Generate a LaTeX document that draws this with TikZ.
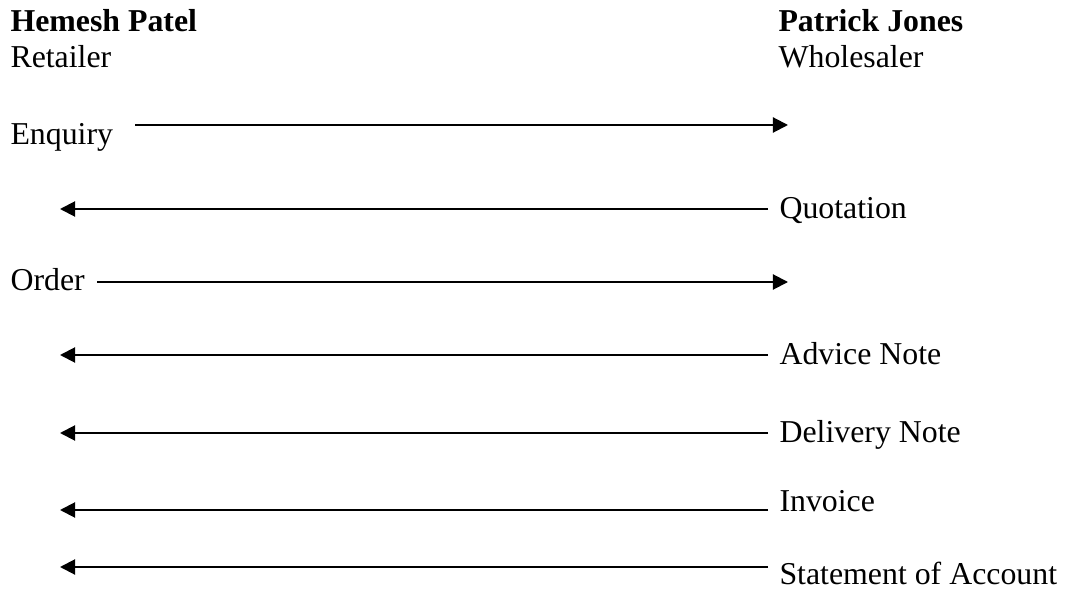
\documentclass[tikz,border=0pt]{standalone}
\usepackage{fontspec}
\setmainfont{Liberation Serif}
\usetikzlibrary{arrows.meta}

\begin{document}
\begin{tikzpicture}[x=0.377pt, y=-0.377pt,
    lbl/.style={anchor=base west, inner sep=0pt, font=\fontsize{12}{14}\selectfont},
    msg/.style={-{Triangle[length=5.7pt, width=5.7pt]}, line width=0.75pt}]
        \useasboundingbox (0,0) rectangle (1065,589);

        % parties
        \node[lbl] (retailer) at (10,32) {\textbf{Hemesh Patel}};
        \node[lbl] (retailerRole) at (10,68) {Retailer};
        \node[lbl] (wholesaler) at (778,32) {\textbf{Patrick Jones}};
        \node[lbl] (wholesalerRole) at (778,68) {Wholesaler};

        % enquiry
        \node[lbl] (enquiry) at (10,145) {Enquiry};
        \coordinate (enqL) at (135,125);
        \coordinate (enqR) at (788,125);
        \draw[msg] (enqL) -- (enqR);

        % quotation
        \node[lbl] (quotation) at (779,219) {Quotation};
        \coordinate (quoR) at (768,209);
        \coordinate (quoL) at (60,209);
        \draw[msg] (quoR) -- (quoL);

        % order
        \node[lbl] (order) at (10,291) {Order};
        \coordinate (ordL) at (97,282);
        \coordinate (ordR) at (788,282);
        \draw[msg] (ordL) -- (ordR);

        % advice note
        \node[lbl] (advice) at (779,364) {Advice Note};
        \coordinate (advR) at (768,355);
        \coordinate (advL) at (60,355);
        \draw[msg] (advR) -- (advL);

        % delivery note
        \node[lbl] (delivery) at (779,442) {Delivery Note};
        \coordinate (delR) at (768,433);
        \coordinate (delL) at (60,433);
        \draw[msg] (delR) -- (delL);

        % invoice
        \node[lbl] (invoice) at (779,511) {Invoice};
        \coordinate (invR) at (768,510);
        \coordinate (invL) at (60,510);
        \draw[msg] (invR) -- (invL);

        % statement
        \node[lbl] (statement) at (779,584) {Statement of Account};
        \coordinate (staR) at (768,567);
        \coordinate (staL) at (60,567);
        \draw[msg] (staR) -- (staL);
\end{tikzpicture}
\end{document}
